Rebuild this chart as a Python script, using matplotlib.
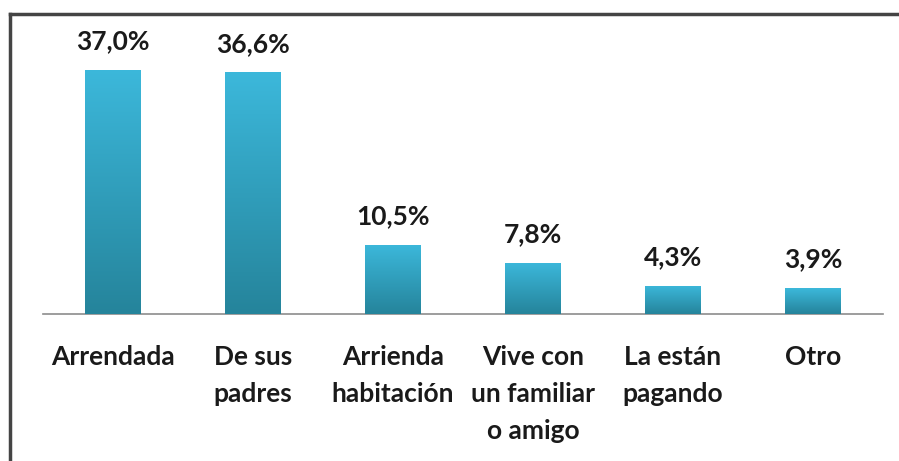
import matplotlib.pyplot as plt
import numpy as np
from matplotlib.colors import LinearSegmentedColormap

categories = ["Arrendada", "De sus\npadres", "Arrienda\nhabitación", "Vive con\nun familiar\no amigo", "La están\npagando", "Otro"]
values = [37.0, 36.6, 10.5, 7.8, 4.3, 3.9]
labels = ["37,0%", "36,6%", "10,5%", "7,8%", "4,3%", "3,9%"]

plt.rcParams['font.family'] = ['Lato', 'DejaVu Sans']

fig = plt.figure(figsize=(8.99, 4.61), dpi=100)
ax = fig.add_axes([43/899, 147/461, 840/899, 264/461])

x = np.arange(len(values))
bars = ax.bar(x, values, width=0.4, color='#33a8c8', zorder=2)

cmap = LinearSegmentedColormap.from_list('g', ['#25849b', '#3cb8db'])
grad = np.linspace(0, 1, 256).reshape(-1, 1)
for b in bars:
    x0, w, h = b.get_x(), b.get_width(), b.get_height()
    im = ax.imshow(grad, cmap=cmap, aspect='auto', origin='lower',
                   extent=[x0, x0 + w, 0, h], zorder=3)
    im.set_clip_path(b)

for xi, v, t in zip(x, values, labels):
    ax.annotate(t, (xi, v), xytext=(0, 12), textcoords='offset points',
                ha='center', va='bottom', fontsize=19, fontweight='bold', color='#1a1a1a')

ax.set_xlim(-0.5, len(values) - 0.5)
ax.set_ylim(0, 40)
ax.set_xticks(x)
ax.set_xticklabels(categories, fontsize=19, fontweight='bold', color='#1a1a1a', linespacing=1.65)
ax.tick_params(axis='x', length=0, pad=22)
ax.set_yticks([])
for s in ['top', 'right', 'left']:
    ax.spines[s].set_visible(False)
ax.spines['bottom'].set_color('#8c8c8c')
ax.spines['bottom'].set_linewidth(1.2)

# frame lines (top and left)
fig.add_artist(plt.Line2D([9.5/899, 9.5/899], [0, 1 - 14/461], color='#444444', lw=2.5))
fig.add_artist(plt.Line2D([9.5/899, 1], [1 - 14/461, 1 - 14/461], color='#444444', lw=2.5))

fig.savefig('out.png', dpi=100)
